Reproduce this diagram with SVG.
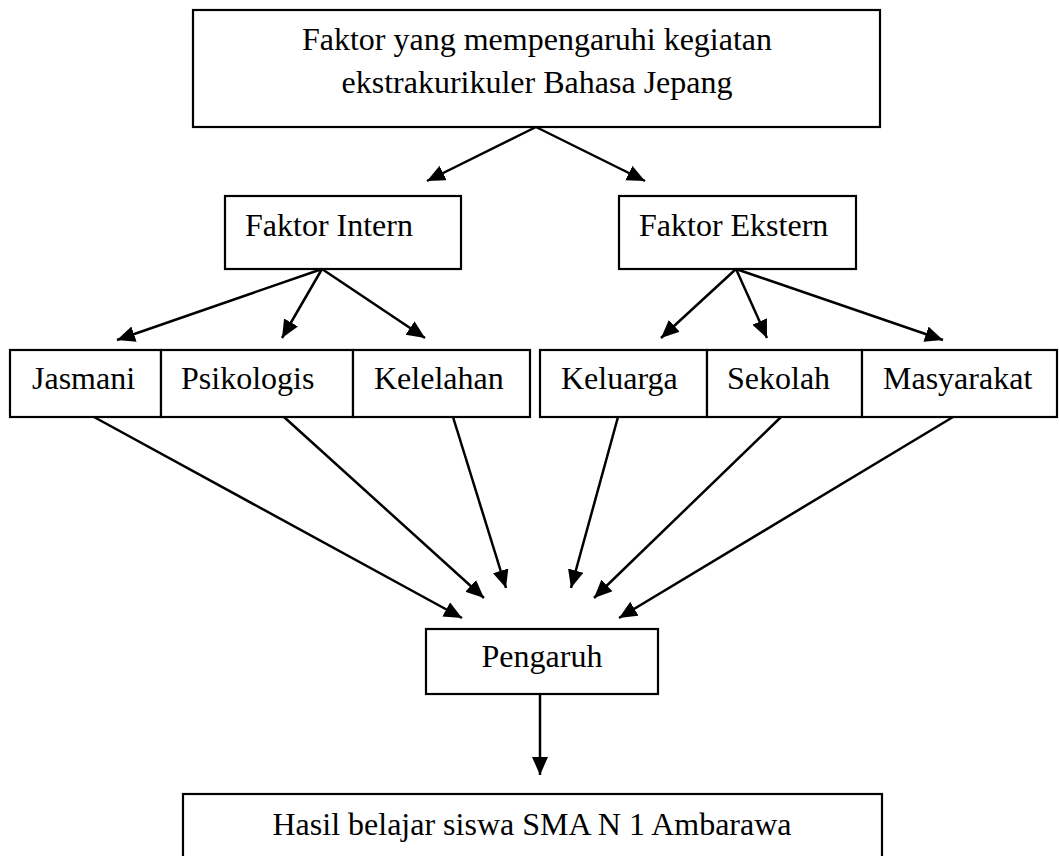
<svg xmlns="http://www.w3.org/2000/svg" width="1059" height="856" viewBox="0 0 1059 856">
<defs>
<marker id="ah" markerUnits="userSpaceOnUse" markerWidth="20" markerHeight="18" refX="18" refY="8" orient="auto">
<path d="M0,0 L18,8 L0,16 z" fill="#000"/>
</marker>
<style>
rect{fill:#fff;stroke:#000;stroke-width:2.2}
text{font-family:"Liberation Serif","Times New Roman",serif;font-size:32px;fill:#000}
.c{text-anchor:middle}
#connectors line{stroke:#000;stroke-width:2.5;marker-end:url(#ah)}
</style>
</defs>
<rect x="0" y="0" width="1059" height="856" style="stroke:none"/>
<g id="top"><rect x="193" y="10" width="687" height="117"/>
<text class="c" x="537" y="50">Faktor yang mempengaruhi kegiatan</text>
<text class="c" x="537" y="93">ekstrakurikuler Bahasa Jepang</text></g>
<g id="intern"><rect x="225" y="196" width="236" height="73"/><text x="245" y="236">Faktor Intern</text></g>
<g id="ekstern"><rect x="619" y="196" width="237" height="73"/><text x="639" y="236">Faktor Ekstern</text></g>
<g id="jasmani"><rect x="10" y="350" width="151" height="67"/><text x="32" y="389">Jasmani</text></g>
<g id="psikologis"><rect x="161" y="350" width="192" height="67"/><text x="181" y="389">Psikologis</text></g>
<g id="kelelahan"><rect x="353" y="350" width="177" height="67"/><text x="374" y="389">Kelelahan</text></g>
<g id="keluarga"><rect x="540" y="350" width="167" height="67"/><text x="561" y="389">Keluarga</text></g>
<g id="sekolah"><rect x="707" y="350" width="155" height="67"/><text x="727" y="389">Sekolah</text></g>
<g id="masyarakat"><rect x="862" y="350" width="195" height="67"/><text x="883" y="389">Masyarakat</text></g>
<g id="pengaruh"><rect x="426" y="629" width="232" height="65"/><text class="c" x="542" y="667">Pengaruh</text></g>
<g id="hasil"><rect x="183" y="794" width="699" height="80"/><text class="c" x="532" y="835">Hasil belajar siswa SMA N 1 Ambarawa</text></g>
<g id="connectors">
<line x1="536" y1="127" x2="427" y2="181"/>
<line x1="536" y1="127" x2="645" y2="181"/>
<line x1="322" y1="269" x2="117" y2="340"/>
<line x1="322" y1="269" x2="282" y2="338"/>
<line x1="322" y1="269" x2="425" y2="338"/>
<line x1="736" y1="269" x2="661" y2="338"/>
<line x1="736" y1="269" x2="767" y2="338"/>
<line x1="736" y1="269" x2="943" y2="340"/>
<line x1="94" y1="417" x2="462" y2="618"/>
<line x1="284" y1="417" x2="484" y2="598"/>
<line x1="453" y1="417" x2="506" y2="588"/>
<line x1="618" y1="417" x2="571" y2="588"/>
<line x1="781" y1="417" x2="594" y2="598"/>
<line x1="953" y1="417" x2="619" y2="618"/>
<line x1="540" y1="694" x2="540" y2="775"/>
</g>
</svg>
